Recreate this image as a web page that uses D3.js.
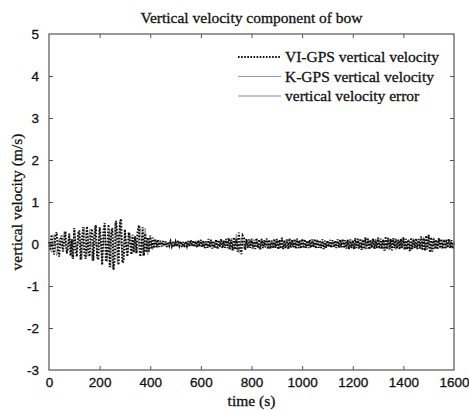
<!DOCTYPE html>
<html>
<head>
<meta charset="utf-8">
<script src="https://cdn.jsdelivr.net/npm/d3@7/dist/d3.min.js"></script>
<style>
  html, body { margin: 0; padding: 0; background: #fff; }
  svg { display: block; }
</style>
</head>
<body>
<svg id="chart" width="469" height="410"></svg>
<script>
// VI-GPS vertical velocity (m/s), one sample every 5 s from 0 s
const viStep = 5;
const viGps = [
  0.05,-0.15,0.22,-0.08,-0.25,0.18,0.28,-0.12,-0.30,0.10,0.20,-0.18,0.05,0.30,-0.22,-0.10,0.25,-0.28,0.12,-0.35,
  0.38,-0.15,-0.30,0.25,0.32,-0.38,0.10,0.40,-0.25,-0.35,0.42,-0.12,-0.30,0.30,0.36,-0.40,0.15,0.45,-0.30,-0.38,
  0.40,0.10,-0.50,0.32,0.50,-0.42,-0.20,0.46,-0.55,0.20,0.38,-0.62,-0.30,0.55,0.20,-0.50,0.48,0.60,-0.45,-0.40,
  0.35,-0.10,-0.30,0.28,0.05,-0.25,0.22,-0.20,0.18,-0.22,0.30,0.45,-0.30,-0.15,0.40,-0.28,0.25,-0.20,0.15,-0.18,
  0.20,-0.12,0.15,-0.10,0.12,-0.08,0.10,-0.07,0.08,-0.06,0.07,-0.05,0.06,-0.07,0.05,-0.04,0.06,-0.05,0.07,-0.06,
  0.05,-0.06,0.08,-0.04,0.06,-0.07,0.05,-0.08,0.06,-0.05,0.07,-0.06,0.09,-0.05,0.08,-0.07,0.06,-0.08,0.09,-0.06,
  0.10,-0.07,0.08,-0.10,0.06,-0.09,0.12,-0.08,0.10,-0.11,0.07,-0.09,0.11,-0.12,0.09,-0.07,0.12,-0.10,0.08,-0.09,
  0.12,-0.10,0.14,-0.12,0.10,-0.15,0.16,-0.13,0.12,-0.18,0.27,-0.10,-0.24,0.20,0.15,-0.14,0.12,-0.10,0.11,-0.09,
  0.13,-0.11,0.10,-0.12,0.14,-0.09,0.11,-0.13,0.12,-0.10,0.09,-0.08,0.13,-0.12,0.10,-0.11,0.08,-0.10,0.12,-0.09,
  0.12,-0.13,0.10,-0.11,0.15,-0.12,0.09,-0.10,0.11,-0.12,0.13,-0.09,0.10,-0.08,0.12,-0.11,0.13,-0.10,0.09,-0.11,
  0.12,-0.10,0.11,-0.09,0.08,-0.10,0.10,-0.09,0.11,-0.08,0.12,-0.11,0.10,-0.09,0.09,-0.10,0.11,-0.12,0.08,-0.09,
  0.08,-0.07,0.10,-0.09,0.09,-0.08,0.08,-0.10,0.11,-0.09,0.10,-0.08,0.12,-0.10,0.09,-0.11,0.10,-0.12,0.11,-0.10,
  0.09,-0.12,0.14,-0.10,0.12,-0.11,0.13,-0.14,0.10,-0.12,0.16,-0.11,0.12,-0.13,0.10,-0.09,0.13,-0.12,0.11,-0.10,
  0.15,-0.11,0.13,-0.12,0.10,-0.16,0.18,-0.12,0.14,-0.13,0.12,-0.15,0.14,-0.10,0.12,-0.11,0.10,-0.13,0.12,-0.10,
  0.16,-0.14,0.12,-0.13,0.10,-0.17,0.15,-0.12,0.11,-0.10,0.13,-0.12,0.12,-0.11,0.18,-0.15,0.14,-0.16,0.20,-0.13,
  0.22,-0.20,0.16,-0.18,0.12,-0.12,0.10,-0.13,0.14,-0.10,0.12,-0.11,0.10,-0.12,0.11,-0.09,0.12,-0.10,0.09,-0.11,
  0.05
];

// K-GPS vertical velocity (m/s), one sample every 10 s from 0 s
const refStep = 10;
const kGps = [
  0.04,-0.20,0.23,-0.28,0.14,-0.09,0.30,-0.24,0.19,-0.33,
  0.36,-0.19,0.28,-0.36,0.40,-0.29,0.34,-0.40,0.43,-0.33,
  0.38,-0.48,0.47,-0.43,0.36,-0.58,0.52,-0.47,0.57,-0.40,
  0.33,-0.28,0.26,-0.24,0.19,-0.21,0.42,-0.28,0.38,-0.26,
  0.19,-0.14,0.11,-0.09,0.07,-0.05,0.06,-0.05,0.05,-0.06,
  0.04,-0.05,0.07,-0.05,0.05,-0.07,0.04,-0.05,0.08,-0.06,
  0.09,-0.07,0.06,-0.09,0.11,-0.08,0.07,-0.11,0.09,-0.07,
  0.11,-0.13,0.14,-0.16,0.24,-0.22,0.16,-0.11,0.09,-0.08,
  0.12,-0.09,0.11,-0.13,0.09,-0.07,0.13,-0.11,0.08,-0.09,
  0.11,-0.12,0.14,-0.09,0.10,-0.11,0.09,-0.07,0.12,-0.10,
  0.11,-0.09,0.07,-0.08,0.09,-0.07,0.11,-0.09,0.08,-0.10,
  0.07,-0.06,0.09,-0.08,0.07,-0.09,0.10,-0.07,0.11,-0.09,
  0.08,-0.11,0.13,-0.09,0.11,-0.13,0.15,-0.11,0.09,-0.12,
  0.14,-0.10,0.12,-0.15,0.16,-0.11,0.13,-0.14,0.11,-0.09,
  0.15,-0.13,0.11,-0.16,0.14,-0.09,0.12,-0.11,0.17,-0.14,
  0.20,-0.18,0.15,-0.11,0.09,-0.12,0.11,-0.09,0.10,-0.08,
  0.04
];

// Vertical velocity error (m/s), one sample every 10 s from 0 s
const velError = [
  0.01,-0.02,0.02,-0.02,0.01,-0.01,0.02,-0.01,0.01,-0.02,
  0.02,-0.01,0.02,-0.02,0.02,-0.01,0.02,-0.02,0.02,-0.02,
  0.02,-0.02,0.03,-0.02,0.02,-0.04,0.03,-0.03,0.03,-0.02,
  0.02,-0.02,0.02,-0.01,0.01,-0.01,0.03,-0.02,0.02,-0.02,
  0.01,-0.01,0.01,-0.01,0.01,-0.01,0.01,0.00,0.01,-0.01,
  0.01,-0.01,0.01,0.00,0.01,-0.01,0.01,-0.01,0.01,-0.01,
  0.01,-0.01,0.01,-0.01,0.01,-0.01,0.01,-0.01,0.01,-0.01,
  0.01,-0.01,0.01,-0.02,0.03,-0.02,0.02,-0.01,0.01,-0.01,
  0.01,-0.01,0.01,-0.01,0.01,-0.01,0.01,-0.01,0.01,-0.01,
  0.01,-0.01,0.01,-0.01,0.01,-0.01,0.01,-0.01,0.01,-0.01,
  0.01,-0.01,0.01,-0.01,0.01,-0.01,0.01,-0.01,0.01,-0.01,
  0.01,-0.01,0.01,-0.01,0.01,-0.01,0.01,-0.01,0.01,-0.01,
  0.01,-0.01,0.01,-0.01,0.01,-0.01,0.01,-0.01,0.01,-0.01,
  0.01,-0.01,0.01,-0.01,0.02,-0.01,0.01,-0.01,0.01,-0.01,
  0.01,-0.01,0.01,-0.01,0.01,-0.01,0.01,-0.01,0.01,-0.01,
  0.02,-0.02,0.01,-0.01,0.01,-0.01,0.01,-0.01,0.01,-0.01,
  0.01
];

const xTicks = [0, 200, 400, 600, 800, 1000, 1200, 1400, 1600];
const yTicks = [-3, -2, -1, 0, 1, 2, 3, 4, 5];

const titleText = "Vertical velocity component of bow";
const xLabel = "time (s)";
const yLabel = "vertical velocity (m/s)";
const legendLabels = ["VI-GPS vertical velocity", "K-GPS vertical velocity", "vertical velocity error"];

const W = 469, H = 410;
const margin = { left: 49, right: 15, top: 34, bottom: 40 };
const iw = W - margin.left - margin.right;
const ih = H - margin.top - margin.bottom;

const svg = d3.select("#chart");
const g = svg.append("g").attr("transform", `translate(${margin.left},${margin.top})`);

const x = d3.scaleLinear().domain([0, 1600]).range([0, iw]);
const y = d3.scaleLinear().domain([-3, 5]).range([ih, 0]);

const serif = "'Liberation Serif', 'Times New Roman', serif";
const sans = "'Liberation Sans', Arial, Helvetica, sans-serif";
const axisColor = "#555";
const tickLen = 4;
const dotted = { stroke: "#0d0d0d", width: 2, dash: "1.6 1.5" };

// Series: gray references underneath, dotted VI-GPS on top
const lineAt = step => d3.line().x((d, i) => x(i * step)).y(d => y(d));
const plot = g.append("g");

plot.append("path").datum(kGps)
  .attr("d", lineAt(refStep)).attr("fill", "none")
  .attr("stroke", "#9a9a9a").attr("stroke-width", 1);
plot.append("path").datum(velError)
  .attr("d", lineAt(refStep)).attr("fill", "none")
  .attr("stroke", "#8a8a8a").attr("stroke-width", 1);
plot.append("path").datum(viGps)
  .attr("d", lineAt(viStep)).attr("fill", "none")
  .attr("stroke", dotted.stroke).attr("stroke-width", dotted.width)
  .attr("stroke-dasharray", dotted.dash);

// Axes with inward ticks on all four sides; plain hyphen for negatives
const fmt = d => String(d);
function styleAxis(sel) {
  sel.select(".domain").remove();
  sel.selectAll(".tick line").attr("stroke", axisColor);
  sel.selectAll(".tick text").attr("fill", "#111")
    .attr("stroke", "#111").attr("stroke-width", 0.3)
    .style("font-family", sans).style("font-size", "13.5px");
}

const xAxis = g.append("g").attr("transform", `translate(0,${ih})`)
  .call(d3.axisBottom(x).tickValues(xTicks).tickFormat(fmt)
    .tickSizeInner(-tickLen).tickSizeOuter(0).tickPadding(7));
styleAxis(xAxis);

const xAxisTop = g.append("g")
  .call(d3.axisTop(x).tickValues(xTicks).tickFormat("")
    .tickSizeInner(-tickLen).tickSizeOuter(0));
styleAxis(xAxisTop);

const yAxis = g.append("g")
  .call(d3.axisLeft(y).tickValues(yTicks).tickFormat(fmt)
    .tickSizeInner(-tickLen).tickSizeOuter(0).tickPadding(10));
styleAxis(yAxis);

const yAxisRight = g.append("g").attr("transform", `translate(${iw},0)`)
  .call(d3.axisRight(y).tickValues(yTicks).tickFormat("")
    .tickSizeInner(-tickLen).tickSizeOuter(0));
styleAxis(yAxisRight);

// Hide end ticks that sit on the frame corners
[xAxis, xAxisTop].forEach(a => a.selectAll(".tick line")
  .filter(d => d === 0 || d === 1600).attr("stroke", "none"));
[yAxis, yAxisRight].forEach(a => a.selectAll(".tick line")
  .filter(d => d === -3 || d === 5).attr("stroke", "none"));

// Frame
g.append("rect").attr("x", 0).attr("y", 0).attr("width", iw).attr("height", ih)
  .attr("fill", "none").attr("stroke", axisColor).attr("stroke-width", 1.2);

// Title and axis labels
function serifText(sel) {
  return sel.style("font-family", serif).style("font-size", "15.5px")
    .attr("fill", "#111").attr("stroke", "#111").attr("stroke-width", 0.3);
}

serifText(svg.append("text").attr("x", margin.left + iw / 2).attr("y", 23)
  .attr("text-anchor", "middle")).text(titleText);

serifText(svg.append("text").attr("x", margin.left + iw / 2).attr("y", 406)
  .attr("text-anchor", "middle")).text(xLabel);

serifText(svg.append("text")
  .attr("transform", `translate(22,${margin.top + ih / 2}) rotate(-90)`)
  .attr("text-anchor", "middle")).text(yLabel);

// Legend (no box)
const legendStyles = [
  dotted,
  { stroke: "#9a9a9a", width: 1, dash: null },
  { stroke: "#8a8a8a", width: 1, dash: null }
];
const legend = svg.append("g");
legendLabels.forEach((label, i) => {
  const cy = 57 + i * 19.5;
  const s = legendStyles[i];
  legend.append("line").attr("x1", 238).attr("x2", 281).attr("y1", cy).attr("y2", cy)
    .attr("stroke", s.stroke).attr("stroke-width", s.width)
    .attr("stroke-dasharray", s.dash);
  serifText(legend.append("text").attr("x", 285).attr("y", cy + 5)).text(label);
});
</script>
</body>
</html>
